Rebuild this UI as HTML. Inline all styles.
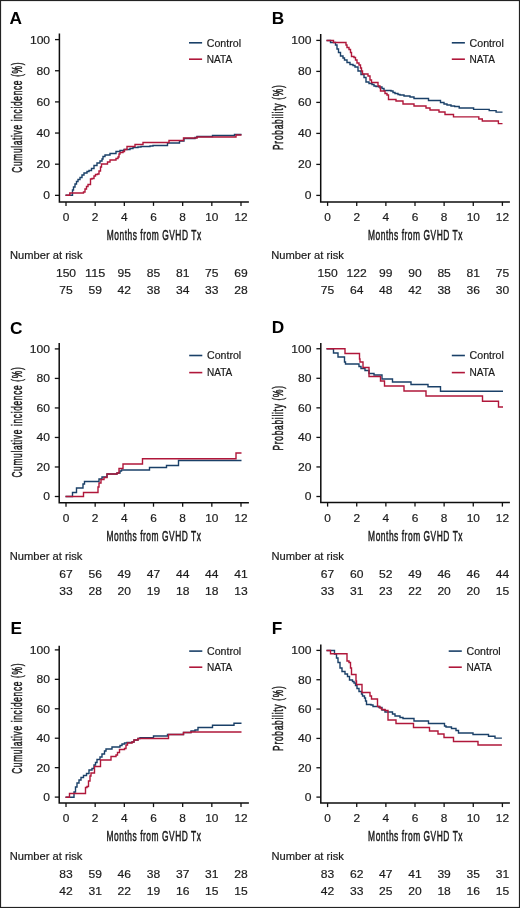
<!DOCTYPE html>
<html><head><meta charset="utf-8"><style>
html,body{margin:0;padding:0;background:#fff;}
body{width:520px;height:908px;overflow:hidden;position:relative;}
svg{position:absolute;left:0;top:0;display:block;will-change:transform;}
text{font-family:"Liberation Sans",sans-serif;fill:#1a1a1a;}
.lab{font-size:17.3px;font-weight:bold;fill:#000;}
.tl{font-size:11px;stroke:#1a1a1a;stroke-width:0.18px;}
.rk{font-size:11px;stroke:#1a1a1a;stroke-width:0.18px;}
.xl{font-size:14px;stroke:#1a1a1a;stroke-width:0.5px;}
.nr{font-size:11.3px;stroke:#1a1a1a;stroke-width:0.2px;}
.yl{font-size:14px;stroke:#1a1a1a;stroke-width:0.5px;}
.le{font-size:10.6px;stroke:#1a1a1a;stroke-width:0.2px;}
.ax{fill:none;stroke:#0d0d0d;stroke-width:1.5;}
.tk{fill:none;stroke:#111;stroke-width:1.3;}
.lg{fill:none;stroke-width:1.6;}
.cv{fill:none;stroke-width:1.4;stroke-linejoin:miter;}
</style></head><body>
<svg width="520" height="908" viewBox="0 0 520 908">
<rect x="0.5" y="0.5" width="519" height="907" fill="none" stroke="#222" stroke-width="1.2"/>
<g><text x="9.6" y="23.9" class="lab">A</text><path d="M59.4 33.5V201.9H248.9" class="ax"/><path d="M55 195.35H59.4" class="tk"/><text x="50.1" y="199.25" class="tl" text-anchor="end" textLength="6.73" lengthAdjust="spacingAndGlyphs">0</text><path d="M55 164.2H59.4" class="tk"/><text x="50.1" y="168.1" class="tl" text-anchor="end" textLength="13.46" lengthAdjust="spacingAndGlyphs">20</text><path d="M55 133.05H59.4" class="tk"/><text x="50.1" y="136.95" class="tl" text-anchor="end" textLength="13.46" lengthAdjust="spacingAndGlyphs">40</text><path d="M55 101.9H59.4" class="tk"/><text x="50.1" y="105.8" class="tl" text-anchor="end" textLength="13.46" lengthAdjust="spacingAndGlyphs">60</text><path d="M55 70.75H59.4" class="tk"/><text x="50.1" y="74.65" class="tl" text-anchor="end" textLength="13.46" lengthAdjust="spacingAndGlyphs">80</text><path d="M55 39.6H59.4" class="tk"/><text x="50.1" y="43.5" class="tl" text-anchor="end" textLength="20.18" lengthAdjust="spacingAndGlyphs">100</text><path d="M66 201.9V205.9" class="tk"/><text x="66" y="220.9" class="tl" text-anchor="middle" textLength="6.61" lengthAdjust="spacingAndGlyphs">0</text><text x="66" y="277.1" class="rk" text-anchor="middle" textLength="20.18" lengthAdjust="spacingAndGlyphs">150</text><text x="66" y="294" class="rk" text-anchor="middle" textLength="13.46" lengthAdjust="spacingAndGlyphs">75</text><path d="M95.17 201.9V205.9" class="tk"/><text x="95.17" y="220.9" class="tl" text-anchor="middle" textLength="6.61" lengthAdjust="spacingAndGlyphs">2</text><text x="95.17" y="277.1" class="rk" text-anchor="middle" textLength="20.18" lengthAdjust="spacingAndGlyphs">115</text><text x="95.17" y="294" class="rk" text-anchor="middle" textLength="13.46" lengthAdjust="spacingAndGlyphs">59</text><path d="M124.33 201.9V205.9" class="tk"/><text x="124.33" y="220.9" class="tl" text-anchor="middle" textLength="6.61" lengthAdjust="spacingAndGlyphs">4</text><text x="124.33" y="277.1" class="rk" text-anchor="middle" textLength="13.46" lengthAdjust="spacingAndGlyphs">95</text><text x="124.33" y="294" class="rk" text-anchor="middle" textLength="13.46" lengthAdjust="spacingAndGlyphs">42</text><path d="M153.5 201.9V205.9" class="tk"/><text x="153.5" y="220.9" class="tl" text-anchor="middle" textLength="6.61" lengthAdjust="spacingAndGlyphs">6</text><text x="153.5" y="277.1" class="rk" text-anchor="middle" textLength="13.46" lengthAdjust="spacingAndGlyphs">85</text><text x="153.5" y="294" class="rk" text-anchor="middle" textLength="13.46" lengthAdjust="spacingAndGlyphs">38</text><path d="M182.67 201.9V205.9" class="tk"/><text x="182.67" y="220.9" class="tl" text-anchor="middle" textLength="6.61" lengthAdjust="spacingAndGlyphs">8</text><text x="182.67" y="277.1" class="rk" text-anchor="middle" textLength="13.46" lengthAdjust="spacingAndGlyphs">81</text><text x="182.67" y="294" class="rk" text-anchor="middle" textLength="13.46" lengthAdjust="spacingAndGlyphs">34</text><path d="M211.83 201.9V205.9" class="tk"/><text x="211.83" y="220.9" class="tl" text-anchor="middle" textLength="13.21" lengthAdjust="spacingAndGlyphs">10</text><text x="211.83" y="277.1" class="rk" text-anchor="middle" textLength="13.46" lengthAdjust="spacingAndGlyphs">75</text><text x="211.83" y="294" class="rk" text-anchor="middle" textLength="13.46" lengthAdjust="spacingAndGlyphs">33</text><path d="M241 201.9V205.9" class="tk"/><text x="241" y="220.9" class="tl" text-anchor="middle" textLength="13.21" lengthAdjust="spacingAndGlyphs">12</text><text x="241" y="277.1" class="rk" text-anchor="middle" textLength="13.46" lengthAdjust="spacingAndGlyphs">69</text><text x="241" y="294" class="rk" text-anchor="middle" textLength="13.46" lengthAdjust="spacingAndGlyphs">28</text><g transform="translate(106.7 240.2) scale(0.6 1)"><text x="0" y="0" class="xl" letter-spacing="0.9">Months from GVHD Tx</text></g><text x="10" y="258.9" class="nr" textLength="72.5" lengthAdjust="spacingAndGlyphs">Number at risk</text><g transform="translate(22 117.9) rotate(-90) translate(-54.9 0) scale(0.6 1)"><text x="0" y="0" class="yl" letter-spacing="1.1">Cumulative incidence (%)</text></g><path d="M189 42.8H202.1" stroke="#1a4068" class="lg"/><path d="M189 59.2H202.1" stroke="#b0173a" class="lg"/><text x="206.8" y="46.7" class="le" textLength="34.2" lengthAdjust="spacingAndGlyphs">Control</text><text x="206.8" y="62.9" class="le" textLength="25.3" lengthAdjust="spacingAndGlyphs">NATA</text><path d="M65.5 195.2H72.5V190H73.5V187H75V184H76.5V181.5H78V179.5H80V177.5H82V175H84V173H87V171.5H89V170.5H91.5V168.5H94V165.5H97V163H100V161H102V159H103V156.5H105V155H110V153.5H116V151.5H120V150.5H124V149.5H130V148.5H133V147.5H138V147H141V146.5H150V146H153V145.5H167.5V143H179.5V141H184V138.5H195V137.5H197V136.5H212.5V135.5H234.5V134.5H241.5V134.5" stroke="#1a4068" class="cv"/><path d="M65.5 195.2H69.8V193H83.5V192H85V189H86.5V186.5H88V184.5H90.5V179H92V178.5H94V176H95.5V174.5H97.5V174H99V171H100.5V167H101.5V164H107.5V162H110V160H116V158.5H118V157H119V154H120V152.5H123V151.5H124.5V149.5H127V146.5H135V144.5H143V142.5H169V140.5H183.5V138H197V137H236V135H241.5V135" stroke="#b0173a" class="cv"/></g>
<g><text x="271.7" y="24.3" class="lab">B</text><path d="M320.7 34.1V201.9H509.9" class="ax"/><path d="M316.3 195.4H320.7" class="tk"/><text x="311.4" y="199.3" class="tl" text-anchor="end" textLength="6.73" lengthAdjust="spacingAndGlyphs">0</text><path d="M316.3 164.4H320.7" class="tk"/><text x="311.4" y="168.3" class="tl" text-anchor="end" textLength="13.46" lengthAdjust="spacingAndGlyphs">20</text><path d="M316.3 133.4H320.7" class="tk"/><text x="311.4" y="137.3" class="tl" text-anchor="end" textLength="13.46" lengthAdjust="spacingAndGlyphs">40</text><path d="M316.3 102.4H320.7" class="tk"/><text x="311.4" y="106.3" class="tl" text-anchor="end" textLength="13.46" lengthAdjust="spacingAndGlyphs">60</text><path d="M316.3 71.4H320.7" class="tk"/><text x="311.4" y="75.3" class="tl" text-anchor="end" textLength="13.46" lengthAdjust="spacingAndGlyphs">80</text><path d="M316.3 40.4H320.7" class="tk"/><text x="311.4" y="44.3" class="tl" text-anchor="end" textLength="20.18" lengthAdjust="spacingAndGlyphs">100</text><path d="M327.6 201.9V205.9" class="tk"/><text x="327.6" y="220.9" class="tl" text-anchor="middle" textLength="6.61" lengthAdjust="spacingAndGlyphs">0</text><text x="327.6" y="277.1" class="rk" text-anchor="middle" textLength="20.18" lengthAdjust="spacingAndGlyphs">150</text><text x="327.6" y="294" class="rk" text-anchor="middle" textLength="13.46" lengthAdjust="spacingAndGlyphs">75</text><path d="M356.73 201.9V205.9" class="tk"/><text x="356.73" y="220.9" class="tl" text-anchor="middle" textLength="6.61" lengthAdjust="spacingAndGlyphs">2</text><text x="356.73" y="277.1" class="rk" text-anchor="middle" textLength="20.18" lengthAdjust="spacingAndGlyphs">122</text><text x="356.73" y="294" class="rk" text-anchor="middle" textLength="13.46" lengthAdjust="spacingAndGlyphs">64</text><path d="M385.87 201.9V205.9" class="tk"/><text x="385.87" y="220.9" class="tl" text-anchor="middle" textLength="6.61" lengthAdjust="spacingAndGlyphs">4</text><text x="385.87" y="277.1" class="rk" text-anchor="middle" textLength="13.46" lengthAdjust="spacingAndGlyphs">99</text><text x="385.87" y="294" class="rk" text-anchor="middle" textLength="13.46" lengthAdjust="spacingAndGlyphs">48</text><path d="M415 201.9V205.9" class="tk"/><text x="415" y="220.9" class="tl" text-anchor="middle" textLength="6.61" lengthAdjust="spacingAndGlyphs">6</text><text x="415" y="277.1" class="rk" text-anchor="middle" textLength="13.46" lengthAdjust="spacingAndGlyphs">90</text><text x="415" y="294" class="rk" text-anchor="middle" textLength="13.46" lengthAdjust="spacingAndGlyphs">42</text><path d="M444.13 201.9V205.9" class="tk"/><text x="444.13" y="220.9" class="tl" text-anchor="middle" textLength="6.61" lengthAdjust="spacingAndGlyphs">8</text><text x="444.13" y="277.1" class="rk" text-anchor="middle" textLength="13.46" lengthAdjust="spacingAndGlyphs">85</text><text x="444.13" y="294" class="rk" text-anchor="middle" textLength="13.46" lengthAdjust="spacingAndGlyphs">38</text><path d="M473.27 201.9V205.9" class="tk"/><text x="473.27" y="220.9" class="tl" text-anchor="middle" textLength="13.21" lengthAdjust="spacingAndGlyphs">10</text><text x="473.27" y="277.1" class="rk" text-anchor="middle" textLength="13.46" lengthAdjust="spacingAndGlyphs">81</text><text x="473.27" y="294" class="rk" text-anchor="middle" textLength="13.46" lengthAdjust="spacingAndGlyphs">36</text><path d="M502.4 201.9V205.9" class="tk"/><text x="502.4" y="220.9" class="tl" text-anchor="middle" textLength="13.21" lengthAdjust="spacingAndGlyphs">12</text><text x="502.4" y="277.1" class="rk" text-anchor="middle" textLength="13.46" lengthAdjust="spacingAndGlyphs">75</text><text x="502.4" y="294" class="rk" text-anchor="middle" textLength="13.46" lengthAdjust="spacingAndGlyphs">30</text><g transform="translate(368 240.2) scale(0.6 1)"><text x="0" y="0" class="xl" letter-spacing="0.9">Months from GVHD Tx</text></g><text x="271.3" y="258.9" class="nr" textLength="72.5" lengthAdjust="spacingAndGlyphs">Number at risk</text><g transform="translate(283.3 118) rotate(-90) translate(-31.95 0) scale(0.6 1)"><text x="0" y="0" class="yl" letter-spacing="1.2">Probability (%)</text></g><path d="M451.8 42.8H464.9" stroke="#1a4068" class="lg"/><path d="M451.8 59.2H464.9" stroke="#b0173a" class="lg"/><text x="469.6" y="46.7" class="le" textLength="34.2" lengthAdjust="spacingAndGlyphs">Control</text><text x="469.6" y="62.9" class="le" textLength="25.3" lengthAdjust="spacingAndGlyphs">NATA</text><path d="M326.5 40.5H330.5V42.5H335.5V45H337V49H338.5V52.5H340.5V56H343V58H344.5V60H347V62.5H350V64.5H353V65.5H355V67H358V71H361V74.5H364V77.5H366V82H369V83.5H372V84.5H374V86H376V86.5H379V87H382V88.5H384V90.5H391V91H393V92.5H395V93.5H398V94.5H400V95H404V96H410V97H414V98.5H428.5V100.5H440.5V102.5H444V104H447V105H451V106H454.6V106.5H459.2V108H473.6V109.4H489.2V110.6H496.1V112.1H502.5V112.1" stroke="#1a4068" class="cv"/><path d="M326.5 40.5H333.5V42.5H346V45H347V47.5H349V49.5H350.5V52.5H351.5V56.5H354V57.5H355.5V60H357V63H359V65H360.5V68H361.5V71H362.5V74H368V76H370V80H371.5V82.5H378V86H380V88H380.5V91H385V93.5H387V95H388.5V99.5H396V101H403V104H414V106H426V108H430V110H439V112H445V114.5H453.5V116.9H478.8V119H482.3V121H498.4V123.6H502.5V123.6" stroke="#b0173a" class="cv"/></g>
<g><text x="9.9" y="333.7" class="lab">C</text><path d="M59.2 343V502.7H248.9" class="ax"/><path d="M54.8 496.5H59.2" class="tk"/><text x="49.9" y="500.4" class="tl" text-anchor="end" textLength="6.73" lengthAdjust="spacingAndGlyphs">0</text><path d="M54.8 466.98H59.2" class="tk"/><text x="49.9" y="470.88" class="tl" text-anchor="end" textLength="13.46" lengthAdjust="spacingAndGlyphs">20</text><path d="M54.8 437.46H59.2" class="tk"/><text x="49.9" y="441.36" class="tl" text-anchor="end" textLength="13.46" lengthAdjust="spacingAndGlyphs">40</text><path d="M54.8 407.94H59.2" class="tk"/><text x="49.9" y="411.84" class="tl" text-anchor="end" textLength="13.46" lengthAdjust="spacingAndGlyphs">60</text><path d="M54.8 378.42H59.2" class="tk"/><text x="49.9" y="382.32" class="tl" text-anchor="end" textLength="13.46" lengthAdjust="spacingAndGlyphs">80</text><path d="M54.8 348.9H59.2" class="tk"/><text x="49.9" y="352.8" class="tl" text-anchor="end" textLength="20.18" lengthAdjust="spacingAndGlyphs">100</text><path d="M66 502.7V506.7" class="tk"/><text x="66" y="521.7" class="tl" text-anchor="middle" textLength="6.61" lengthAdjust="spacingAndGlyphs">0</text><text x="66" y="577.9" class="rk" text-anchor="middle" textLength="13.46" lengthAdjust="spacingAndGlyphs">67</text><text x="66" y="594.8" class="rk" text-anchor="middle" textLength="13.46" lengthAdjust="spacingAndGlyphs">33</text><path d="M95.17 502.7V506.7" class="tk"/><text x="95.17" y="521.7" class="tl" text-anchor="middle" textLength="6.61" lengthAdjust="spacingAndGlyphs">2</text><text x="95.17" y="577.9" class="rk" text-anchor="middle" textLength="13.46" lengthAdjust="spacingAndGlyphs">56</text><text x="95.17" y="594.8" class="rk" text-anchor="middle" textLength="13.46" lengthAdjust="spacingAndGlyphs">28</text><path d="M124.33 502.7V506.7" class="tk"/><text x="124.33" y="521.7" class="tl" text-anchor="middle" textLength="6.61" lengthAdjust="spacingAndGlyphs">4</text><text x="124.33" y="577.9" class="rk" text-anchor="middle" textLength="13.46" lengthAdjust="spacingAndGlyphs">49</text><text x="124.33" y="594.8" class="rk" text-anchor="middle" textLength="13.46" lengthAdjust="spacingAndGlyphs">20</text><path d="M153.5 502.7V506.7" class="tk"/><text x="153.5" y="521.7" class="tl" text-anchor="middle" textLength="6.61" lengthAdjust="spacingAndGlyphs">6</text><text x="153.5" y="577.9" class="rk" text-anchor="middle" textLength="13.46" lengthAdjust="spacingAndGlyphs">47</text><text x="153.5" y="594.8" class="rk" text-anchor="middle" textLength="13.46" lengthAdjust="spacingAndGlyphs">19</text><path d="M182.67 502.7V506.7" class="tk"/><text x="182.67" y="521.7" class="tl" text-anchor="middle" textLength="6.61" lengthAdjust="spacingAndGlyphs">8</text><text x="182.67" y="577.9" class="rk" text-anchor="middle" textLength="13.46" lengthAdjust="spacingAndGlyphs">44</text><text x="182.67" y="594.8" class="rk" text-anchor="middle" textLength="13.46" lengthAdjust="spacingAndGlyphs">18</text><path d="M211.83 502.7V506.7" class="tk"/><text x="211.83" y="521.7" class="tl" text-anchor="middle" textLength="13.21" lengthAdjust="spacingAndGlyphs">10</text><text x="211.83" y="577.9" class="rk" text-anchor="middle" textLength="13.46" lengthAdjust="spacingAndGlyphs">44</text><text x="211.83" y="594.8" class="rk" text-anchor="middle" textLength="13.46" lengthAdjust="spacingAndGlyphs">18</text><path d="M241 502.7V506.7" class="tk"/><text x="241" y="521.7" class="tl" text-anchor="middle" textLength="13.21" lengthAdjust="spacingAndGlyphs">12</text><text x="241" y="577.9" class="rk" text-anchor="middle" textLength="13.46" lengthAdjust="spacingAndGlyphs">41</text><text x="241" y="594.8" class="rk" text-anchor="middle" textLength="13.46" lengthAdjust="spacingAndGlyphs">13</text><g transform="translate(106.5 541) scale(0.6 1)"><text x="0" y="0" class="xl" letter-spacing="0.9">Months from GVHD Tx</text></g><text x="9.8" y="559.7" class="nr" textLength="72.5" lengthAdjust="spacingAndGlyphs">Number at risk</text><g transform="translate(21.8 422.8) rotate(-90) translate(-54.8 0) scale(0.6 1)"><text x="0" y="0" class="yl" letter-spacing="1.1">Cumulative incidence (%)</text></g><path d="M189.2 355.5H202.3" stroke="#1a4068" class="lg"/><path d="M189.2 372.6H202.3" stroke="#b0173a" class="lg"/><text x="207" y="359.4" class="le" textLength="34.2" lengthAdjust="spacingAndGlyphs">Control</text><text x="207" y="376.3" class="le" textLength="25.3" lengthAdjust="spacingAndGlyphs">NATA</text><path d="M65.5 496.5H72.5V492.5H76.5V488H83V484H84.5V481.5H99V479H102V477H107V474H117V473H120V471H121.5V470H149.5V467.5H166.5V465.5H178.5V460.5H241.5V460.5" stroke="#1a4068" class="cv"/><path d="M65.5 496.5H83.5V492.5H98V487H99V483H101V479.5H104V477.5H107V474H117V473H119V468.5H123V464H142.5V458.8H236V453H241.5V453" stroke="#b0173a" class="cv"/></g>
<g><text x="271.7" y="333.4" class="lab">D</text><path d="M320.8 343V502.6H509.9" class="ax"/><path d="M316.4 496.5H320.8" class="tk"/><text x="311.5" y="500.4" class="tl" text-anchor="end" textLength="6.73" lengthAdjust="spacingAndGlyphs">0</text><path d="M316.4 466.95H320.8" class="tk"/><text x="311.5" y="470.85" class="tl" text-anchor="end" textLength="13.46" lengthAdjust="spacingAndGlyphs">20</text><path d="M316.4 437.4H320.8" class="tk"/><text x="311.5" y="441.3" class="tl" text-anchor="end" textLength="13.46" lengthAdjust="spacingAndGlyphs">40</text><path d="M316.4 407.85H320.8" class="tk"/><text x="311.5" y="411.75" class="tl" text-anchor="end" textLength="13.46" lengthAdjust="spacingAndGlyphs">60</text><path d="M316.4 378.3H320.8" class="tk"/><text x="311.5" y="382.2" class="tl" text-anchor="end" textLength="13.46" lengthAdjust="spacingAndGlyphs">80</text><path d="M316.4 348.75H320.8" class="tk"/><text x="311.5" y="352.65" class="tl" text-anchor="end" textLength="20.18" lengthAdjust="spacingAndGlyphs">100</text><path d="M327.6 502.6V506.6" class="tk"/><text x="327.6" y="521.6" class="tl" text-anchor="middle" textLength="6.61" lengthAdjust="spacingAndGlyphs">0</text><text x="327.6" y="577.8" class="rk" text-anchor="middle" textLength="13.46" lengthAdjust="spacingAndGlyphs">67</text><text x="327.6" y="594.7" class="rk" text-anchor="middle" textLength="13.46" lengthAdjust="spacingAndGlyphs">33</text><path d="M356.73 502.6V506.6" class="tk"/><text x="356.73" y="521.6" class="tl" text-anchor="middle" textLength="6.61" lengthAdjust="spacingAndGlyphs">2</text><text x="356.73" y="577.8" class="rk" text-anchor="middle" textLength="13.46" lengthAdjust="spacingAndGlyphs">60</text><text x="356.73" y="594.7" class="rk" text-anchor="middle" textLength="13.46" lengthAdjust="spacingAndGlyphs">31</text><path d="M385.87 502.6V506.6" class="tk"/><text x="385.87" y="521.6" class="tl" text-anchor="middle" textLength="6.61" lengthAdjust="spacingAndGlyphs">4</text><text x="385.87" y="577.8" class="rk" text-anchor="middle" textLength="13.46" lengthAdjust="spacingAndGlyphs">52</text><text x="385.87" y="594.7" class="rk" text-anchor="middle" textLength="13.46" lengthAdjust="spacingAndGlyphs">23</text><path d="M415 502.6V506.6" class="tk"/><text x="415" y="521.6" class="tl" text-anchor="middle" textLength="6.61" lengthAdjust="spacingAndGlyphs">6</text><text x="415" y="577.8" class="rk" text-anchor="middle" textLength="13.46" lengthAdjust="spacingAndGlyphs">49</text><text x="415" y="594.7" class="rk" text-anchor="middle" textLength="13.46" lengthAdjust="spacingAndGlyphs">22</text><path d="M444.13 502.6V506.6" class="tk"/><text x="444.13" y="521.6" class="tl" text-anchor="middle" textLength="6.61" lengthAdjust="spacingAndGlyphs">8</text><text x="444.13" y="577.8" class="rk" text-anchor="middle" textLength="13.46" lengthAdjust="spacingAndGlyphs">46</text><text x="444.13" y="594.7" class="rk" text-anchor="middle" textLength="13.46" lengthAdjust="spacingAndGlyphs">20</text><path d="M473.27 502.6V506.6" class="tk"/><text x="473.27" y="521.6" class="tl" text-anchor="middle" textLength="13.21" lengthAdjust="spacingAndGlyphs">10</text><text x="473.27" y="577.8" class="rk" text-anchor="middle" textLength="13.46" lengthAdjust="spacingAndGlyphs">46</text><text x="473.27" y="594.7" class="rk" text-anchor="middle" textLength="13.46" lengthAdjust="spacingAndGlyphs">20</text><path d="M502.4 502.6V506.6" class="tk"/><text x="502.4" y="521.6" class="tl" text-anchor="middle" textLength="13.21" lengthAdjust="spacingAndGlyphs">12</text><text x="502.4" y="577.8" class="rk" text-anchor="middle" textLength="13.46" lengthAdjust="spacingAndGlyphs">44</text><text x="502.4" y="594.7" class="rk" text-anchor="middle" textLength="13.46" lengthAdjust="spacingAndGlyphs">15</text><g transform="translate(368.1 540.9) scale(0.6 1)"><text x="0" y="0" class="xl" letter-spacing="0.9">Months from GVHD Tx</text></g><text x="271.4" y="559.6" class="nr" textLength="72.5" lengthAdjust="spacingAndGlyphs">Number at risk</text><g transform="translate(283.4 418.7) rotate(-90) translate(-31.85 0) scale(0.6 1)"><text x="0" y="0" class="yl" letter-spacing="1.2">Probability (%)</text></g><path d="M451.8 355.5H464.9" stroke="#1a4068" class="lg"/><path d="M451.8 372.6H464.9" stroke="#b0173a" class="lg"/><text x="469.6" y="359.4" class="le" textLength="34.2" lengthAdjust="spacingAndGlyphs">Control</text><text x="469.6" y="376.3" class="le" textLength="25.3" lengthAdjust="spacingAndGlyphs">NATA</text><path d="M326.5 348.8H333.5V353H338V357H344.5V362H345.5V364H359V366.5H361V368.5H365V370.5H369V373.5H374V375H382V379H392.5V382H411V384.5H428V386.8H440.5V391.2H503V391.2" stroke="#1a4068" class="cv"/><path d="M326.5 348.8H345V353.5H359.5V359H360V362H363V367.5H369V376.5H380.5V381H384.5V386H404V391H426V396H482.5V401.2H498.5V407H503V407" stroke="#b0173a" class="cv"/></g>
<g><text x="10.5" y="634.2" class="lab">E</text><path d="M59.2 645.8V803.1H248.9" class="ax"/><path d="M54.8 797.1H59.2" class="tk"/><text x="49.9" y="801" class="tl" text-anchor="end" textLength="6.73" lengthAdjust="spacingAndGlyphs">0</text><path d="M54.8 767.66H59.2" class="tk"/><text x="49.9" y="771.56" class="tl" text-anchor="end" textLength="13.46" lengthAdjust="spacingAndGlyphs">20</text><path d="M54.8 738.22H59.2" class="tk"/><text x="49.9" y="742.12" class="tl" text-anchor="end" textLength="13.46" lengthAdjust="spacingAndGlyphs">40</text><path d="M54.8 708.78H59.2" class="tk"/><text x="49.9" y="712.68" class="tl" text-anchor="end" textLength="13.46" lengthAdjust="spacingAndGlyphs">60</text><path d="M54.8 679.34H59.2" class="tk"/><text x="49.9" y="683.24" class="tl" text-anchor="end" textLength="13.46" lengthAdjust="spacingAndGlyphs">80</text><path d="M54.8 649.9H59.2" class="tk"/><text x="49.9" y="653.8" class="tl" text-anchor="end" textLength="20.18" lengthAdjust="spacingAndGlyphs">100</text><path d="M66 803.1V807.1" class="tk"/><text x="66" y="822.1" class="tl" text-anchor="middle" textLength="6.61" lengthAdjust="spacingAndGlyphs">0</text><text x="66" y="878.3" class="rk" text-anchor="middle" textLength="13.46" lengthAdjust="spacingAndGlyphs">83</text><text x="66" y="895.2" class="rk" text-anchor="middle" textLength="13.46" lengthAdjust="spacingAndGlyphs">42</text><path d="M95.17 803.1V807.1" class="tk"/><text x="95.17" y="822.1" class="tl" text-anchor="middle" textLength="6.61" lengthAdjust="spacingAndGlyphs">2</text><text x="95.17" y="878.3" class="rk" text-anchor="middle" textLength="13.46" lengthAdjust="spacingAndGlyphs">59</text><text x="95.17" y="895.2" class="rk" text-anchor="middle" textLength="13.46" lengthAdjust="spacingAndGlyphs">31</text><path d="M124.33 803.1V807.1" class="tk"/><text x="124.33" y="822.1" class="tl" text-anchor="middle" textLength="6.61" lengthAdjust="spacingAndGlyphs">4</text><text x="124.33" y="878.3" class="rk" text-anchor="middle" textLength="13.46" lengthAdjust="spacingAndGlyphs">46</text><text x="124.33" y="895.2" class="rk" text-anchor="middle" textLength="13.46" lengthAdjust="spacingAndGlyphs">22</text><path d="M153.5 803.1V807.1" class="tk"/><text x="153.5" y="822.1" class="tl" text-anchor="middle" textLength="6.61" lengthAdjust="spacingAndGlyphs">6</text><text x="153.5" y="878.3" class="rk" text-anchor="middle" textLength="13.46" lengthAdjust="spacingAndGlyphs">38</text><text x="153.5" y="895.2" class="rk" text-anchor="middle" textLength="13.46" lengthAdjust="spacingAndGlyphs">19</text><path d="M182.67 803.1V807.1" class="tk"/><text x="182.67" y="822.1" class="tl" text-anchor="middle" textLength="6.61" lengthAdjust="spacingAndGlyphs">8</text><text x="182.67" y="878.3" class="rk" text-anchor="middle" textLength="13.46" lengthAdjust="spacingAndGlyphs">37</text><text x="182.67" y="895.2" class="rk" text-anchor="middle" textLength="13.46" lengthAdjust="spacingAndGlyphs">16</text><path d="M211.83 803.1V807.1" class="tk"/><text x="211.83" y="822.1" class="tl" text-anchor="middle" textLength="13.21" lengthAdjust="spacingAndGlyphs">10</text><text x="211.83" y="878.3" class="rk" text-anchor="middle" textLength="13.46" lengthAdjust="spacingAndGlyphs">31</text><text x="211.83" y="895.2" class="rk" text-anchor="middle" textLength="13.46" lengthAdjust="spacingAndGlyphs">15</text><path d="M241 803.1V807.1" class="tk"/><text x="241" y="822.1" class="tl" text-anchor="middle" textLength="13.21" lengthAdjust="spacingAndGlyphs">12</text><text x="241" y="878.3" class="rk" text-anchor="middle" textLength="13.46" lengthAdjust="spacingAndGlyphs">28</text><text x="241" y="895.2" class="rk" text-anchor="middle" textLength="13.46" lengthAdjust="spacingAndGlyphs">15</text><g transform="translate(106.5 841.4) scale(0.6 1)"><text x="0" y="0" class="xl" letter-spacing="0.9">Months from GVHD Tx</text></g><text x="9.8" y="860.1" class="nr" textLength="72.5" lengthAdjust="spacingAndGlyphs">Number at risk</text><g transform="translate(21.8 719) rotate(-90) translate(-54.85 0) scale(0.6 1)"><text x="0" y="0" class="yl" letter-spacing="1.1">Cumulative incidence (%)</text></g><path d="M189.2 651.1H202.3" stroke="#1a4068" class="lg"/><path d="M189.2 667.2H202.3" stroke="#b0173a" class="lg"/><text x="207" y="655" class="le" textLength="34.2" lengthAdjust="spacingAndGlyphs">Control</text><text x="207" y="670.9" class="le" textLength="25.3" lengthAdjust="spacingAndGlyphs">NATA</text><path d="M65.5 797.2H74V792H75.5V787H77V783H79V780H81V777.5H83.5V775.5H86.5V773.5H89V770H92V768.5H94V765H95.5V762.5H97V759.5H100V757H102V754H104.5V751H106V749H112V747H120V745.5H122V744H124.5V743H127V742.5H132V742H134V740H138V738.5H140V737.8H153.5V736H167.5V734.5H183.5V732.5H191V731H195V730H198V727.5H212.5V725.2H234V723.2H241.5V723.2" stroke="#1a4068" class="cv"/><path d="M65.5 797.2H69.5V793.5H85.5V787.5H87V786.5H88.5V781H90V776H91V773H94.5V766.5H100.5V760H111V756.5H116V755H117.5V752.5H119.5V749.5H124.5V748.5H126V745H127.5V743H132V742H134V740H138V738.5H168.5V734.5H183.5V732.5H191V732H241.5V732" stroke="#b0173a" class="cv"/></g>
<g><text x="271.7" y="634.2" class="lab">F</text><path d="M320.8 644.6V803.1H509.9" class="ax"/><path d="M316.4 797.1H320.8" class="tk"/><text x="311.5" y="801" class="tl" text-anchor="end" textLength="6.73" lengthAdjust="spacingAndGlyphs">0</text><path d="M316.4 767.76H320.8" class="tk"/><text x="311.5" y="771.66" class="tl" text-anchor="end" textLength="13.46" lengthAdjust="spacingAndGlyphs">20</text><path d="M316.4 738.42H320.8" class="tk"/><text x="311.5" y="742.32" class="tl" text-anchor="end" textLength="13.46" lengthAdjust="spacingAndGlyphs">40</text><path d="M316.4 709.08H320.8" class="tk"/><text x="311.5" y="712.98" class="tl" text-anchor="end" textLength="13.46" lengthAdjust="spacingAndGlyphs">60</text><path d="M316.4 679.74H320.8" class="tk"/><text x="311.5" y="683.64" class="tl" text-anchor="end" textLength="13.46" lengthAdjust="spacingAndGlyphs">80</text><path d="M316.4 650.4H320.8" class="tk"/><text x="311.5" y="654.3" class="tl" text-anchor="end" textLength="20.18" lengthAdjust="spacingAndGlyphs">100</text><path d="M327.6 803.1V807.1" class="tk"/><text x="327.6" y="822.1" class="tl" text-anchor="middle" textLength="6.61" lengthAdjust="spacingAndGlyphs">0</text><text x="327.6" y="878.3" class="rk" text-anchor="middle" textLength="13.46" lengthAdjust="spacingAndGlyphs">83</text><text x="327.6" y="895.2" class="rk" text-anchor="middle" textLength="13.46" lengthAdjust="spacingAndGlyphs">42</text><path d="M356.73 803.1V807.1" class="tk"/><text x="356.73" y="822.1" class="tl" text-anchor="middle" textLength="6.61" lengthAdjust="spacingAndGlyphs">2</text><text x="356.73" y="878.3" class="rk" text-anchor="middle" textLength="13.46" lengthAdjust="spacingAndGlyphs">62</text><text x="356.73" y="895.2" class="rk" text-anchor="middle" textLength="13.46" lengthAdjust="spacingAndGlyphs">33</text><path d="M385.87 803.1V807.1" class="tk"/><text x="385.87" y="822.1" class="tl" text-anchor="middle" textLength="6.61" lengthAdjust="spacingAndGlyphs">4</text><text x="385.87" y="878.3" class="rk" text-anchor="middle" textLength="13.46" lengthAdjust="spacingAndGlyphs">47</text><text x="385.87" y="895.2" class="rk" text-anchor="middle" textLength="13.46" lengthAdjust="spacingAndGlyphs">25</text><path d="M415 803.1V807.1" class="tk"/><text x="415" y="822.1" class="tl" text-anchor="middle" textLength="6.61" lengthAdjust="spacingAndGlyphs">6</text><text x="415" y="878.3" class="rk" text-anchor="middle" textLength="13.46" lengthAdjust="spacingAndGlyphs">41</text><text x="415" y="895.2" class="rk" text-anchor="middle" textLength="13.46" lengthAdjust="spacingAndGlyphs">20</text><path d="M444.13 803.1V807.1" class="tk"/><text x="444.13" y="822.1" class="tl" text-anchor="middle" textLength="6.61" lengthAdjust="spacingAndGlyphs">8</text><text x="444.13" y="878.3" class="rk" text-anchor="middle" textLength="13.46" lengthAdjust="spacingAndGlyphs">39</text><text x="444.13" y="895.2" class="rk" text-anchor="middle" textLength="13.46" lengthAdjust="spacingAndGlyphs">18</text><path d="M473.27 803.1V807.1" class="tk"/><text x="473.27" y="822.1" class="tl" text-anchor="middle" textLength="13.21" lengthAdjust="spacingAndGlyphs">10</text><text x="473.27" y="878.3" class="rk" text-anchor="middle" textLength="13.46" lengthAdjust="spacingAndGlyphs">35</text><text x="473.27" y="895.2" class="rk" text-anchor="middle" textLength="13.46" lengthAdjust="spacingAndGlyphs">16</text><path d="M502.4 803.1V807.1" class="tk"/><text x="502.4" y="822.1" class="tl" text-anchor="middle" textLength="13.21" lengthAdjust="spacingAndGlyphs">12</text><text x="502.4" y="878.3" class="rk" text-anchor="middle" textLength="13.46" lengthAdjust="spacingAndGlyphs">31</text><text x="502.4" y="895.2" class="rk" text-anchor="middle" textLength="13.46" lengthAdjust="spacingAndGlyphs">15</text><g transform="translate(368.1 841.4) scale(0.6 1)"><text x="0" y="0" class="xl" letter-spacing="0.9">Months from GVHD Tx</text></g><text x="271.4" y="860.1" class="nr" textLength="72.5" lengthAdjust="spacingAndGlyphs">Number at risk</text><g transform="translate(283.4 719) rotate(-90) translate(-31.9 0) scale(0.6 1)"><text x="0" y="0" class="yl" letter-spacing="1.2">Probability (%)</text></g><path d="M448.7 651.1H461.8" stroke="#1a4068" class="lg"/><path d="M448.7 667.2H461.8" stroke="#b0173a" class="lg"/><text x="466.5" y="655" class="le" textLength="34.2" lengthAdjust="spacingAndGlyphs">Control</text><text x="466.5" y="670.9" class="le" textLength="25.3" lengthAdjust="spacingAndGlyphs">NATA</text><path d="M326.5 650.5H334.5V654H336.5V658H338V662.5H340V668H342V671.5H345V674H347.5V676.5H349.5V680H352.5V681.5H354V683H355.5V685.5H357V688.5H359V691.5H361.5V694H362.5V696H364.5V698H365.5V701H366.5V704.5H371V705H373V706.5H379V707.5H382V710H385V712H392.5V714H395V716H400V717.5H403V718.5H414V721H428.5V723.5H444.5V726H446V727H451.5V728.5H456V730.5H458.5V733H473V734.5H488.5V736.2H495V738.1H501.9V738.1" stroke="#1a4068" class="cv"/><path d="M326.5 650.5H330.5V653.8H347V661H349V662.5H350.5V668H351.5V674.5H356V681H356.5V684.5H362V692.5H370V696H371.5V699H377.5V706.5H380V708H381.5V709.5H385V710.5H388V720H396V723.5H413.5V727.5H429.5V731H438V734H444V737.5H453.5V741.5H478V745H501.9V745" stroke="#b0173a" class="cv"/></g>
</svg></body></html>
